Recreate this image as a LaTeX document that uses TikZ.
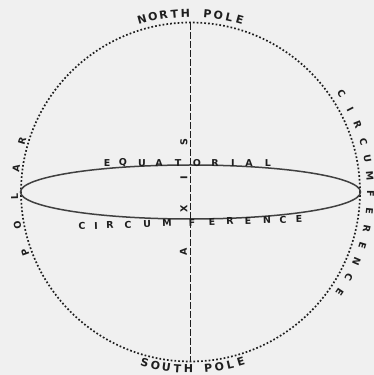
\documentclass[tikz,border=0pt]{standalone}
\usepackage{fontspec}
\newfontfamily\labfont{DejaVu Sans}
\definecolor{inkc}{HTML}{1E1E1E}
\definecolor{paper}{HTML}{F0F0F0}
\tikzset{
  big/.style={font=\labfont\bfseries\fontsize{11}{11}\selectfont, text=inkc, inner sep=0pt, anchor=center},
  small/.style={font=\labfont\bfseries\fontsize{9.5}{9.5}\selectfont, text=inkc, inner sep=0pt, anchor=center},
  dotline/.style={draw=inkc, line width=1.7pt, dash pattern=on 1.7pt off 2.1pt},
  axisline/.style={draw=inkc, line width=1.7pt, dash pattern=on 7pt off 2pt},
  eqline/.style={draw=inkc!85, line width=1.5pt}
}
\begin{document}
\begin{tikzpicture}[x=1pt,y=1pt]
\fill[paper] (0,0) rectangle (374,375);
\useasboundingbox (0,0) rectangle (374,375);
\coordinate (O) at (190.5,183);
\coordinate (NP) at (190.5,352);
\coordinate (SP) at (190.5,14);
% polar circle
\draw[dotline] (O) circle[radius=169.5];
% equator
\draw[eqline] (190.5,183) ellipse[x radius=170, y radius=27];
% axis
\draw[axisline] (NP) -- (SP);
% NORTH POLE
\foreach \ch/\i in {N/0,O/1,R/2,T/3,H/4,P/6,O/7,L/8,E/9}{
  \pgfmathsetmacro\a{105.7-\i*3.52}
  \node[big, rotate=\a-90] (np\i) at ([shift={(\a:179)}]O) {\ch};
}
% SOUTH POLE
\foreach \ch/\i in {S/0,O/1,U/2,T/3,H/4,P/5.8,O/6.8,L/7.8,E/8.8}{
  \pgfmathsetmacro\a{255+\i*3.58}
  \node[big, rotate=\a+90] (sp\i) at ([shift={(\a:177)}]O) {\ch};
}
% CIRCUMFERENCE (right, along circle)
\foreach \ch/\i in {C/0,I/1,R/2,C/3,U/4,M/5,F/6,E/7,R/8,E/9,N/10,C/11,E/12}{
  \pgfmathsetmacro\a{33-\i*5.58}
  \node[small, rotate=\a-90] (rc\i) at ([shift={(\a:180)}]O) {\ch};
}
% POLAR (left, along circle)
\foreach \ch/\i in {P/0,O/1,L/2,A/3,R/4}{
  \pgfmathsetmacro\a{200-\i*9.25}
  \node[small, rotate=\a-90] (po\i) at ([shift={(\a:176)}]O) {\ch};
}
% EQUATORIAL
\foreach \ch/\x [count=\k] in {E/107,Q/123,U/142,A/159,T/178,O/197,R/215,I/233,A/249,L/268}{
  \node[small] (eq\k) at (\x,212) {\ch};
}
% CIRCUMFERENCE (below equator)
\foreach \ch/\x [count=\k] in {C/82,I/96,R/110,C/128,U/147,M/167,F/192,E/212,R/230,E/248,N/267,C/283,E/299}{
  \pgfmathsetmacro\yy{149+(\x-82)/217*7}
  \node[small, rotate=1.8] (cf\k) at (\x,\yy) {\ch};
}
% AXIS
\node[small, rotate=90] (axA) at (183.5,123) {A};
\node[small, rotate=90] (axX) at (184,166) {X};
\node[small, rotate=90] (axI) at (184,197) {I};
\node[small, rotate=90] (axS) at (184,233) {S};
\end{tikzpicture}
\end{document}
